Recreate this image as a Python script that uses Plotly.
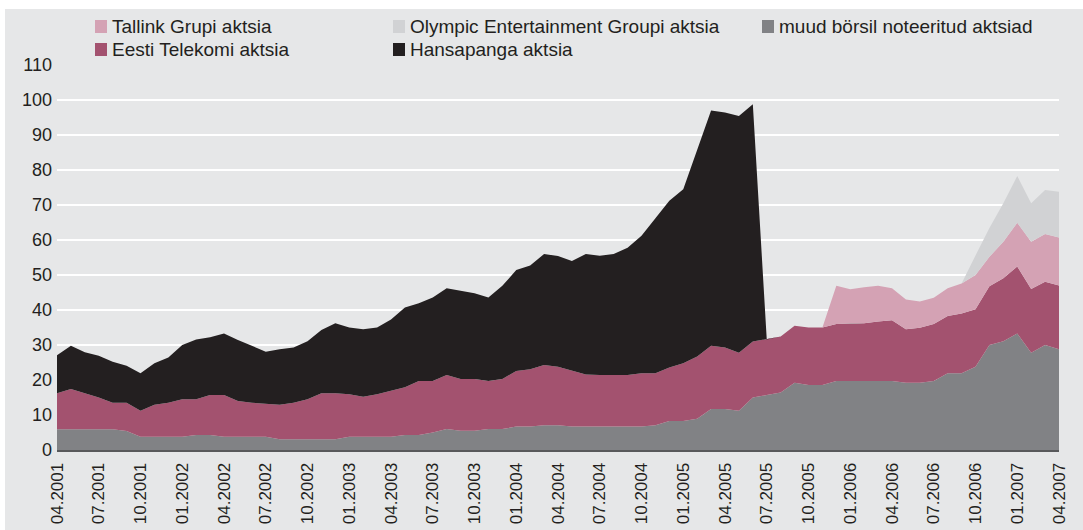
import plotly.graph_objects as go

# Month index 0 = 04.2001 ... 72 = 04.2007
tick_labels = ["04.2001", "07.2001", "10.2001", "01.2002", "04.2002", "07.2002", "10.2002",
               "01.2003", "04.2003", "07.2003", "10.2003", "01.2004", "04.2004", "07.2004",
               "10.2004", "01.2005", "04.2005", "07.2005", "10.2005", "01.2006", "04.2006",
               "07.2006", "10.2006", "01.2007", "04.2007"]

muud = [5.9, 5.9, 5.9, 5.9, 5.9, 5.4, 3.8, 3.8, 3.8, 3.8, 4.3, 4.3, 3.8, 3.8, 3.8, 3.8,
        3.1, 3.1, 3.1, 3.1, 3.1, 3.8, 3.8, 3.8, 3.8, 4.3, 4.3, 5.0, 6.0, 5.5, 5.5, 6.0,
        6.0, 6.7, 6.7, 7.1, 7.1, 6.7, 6.7, 6.7, 6.7, 6.7, 6.7, 7.1, 8.3, 8.3, 8.9, 11.7,
        11.7, 11.2, 15.0, 15.7, 16.4, 19.2, 18.6, 18.6, 19.7, 19.7, 19.7, 19.7, 19.7, 19.2,
        19.2, 19.7, 21.9, 21.9, 23.8, 30.0, 31.1, 33.3, 27.8, 30.0, 28.8]

telekom = [10.3, 11.5, 10.3, 9.1, 7.6, 8.1, 7.4, 9.1, 9.7, 10.7, 10.2, 11.4, 11.9, 10.2,
           9.7, 9.5, 9.8, 10.4, 11.4, 13.1, 13.1, 12.1, 11.4, 12.1, 13.1, 13.6, 15.4, 14.7,
           15.4, 14.8, 14.8, 13.7, 14.3, 15.9, 16.4, 17.2, 16.7, 16.0, 14.9, 14.7, 14.7,
           14.7, 15.2, 14.8, 15.3, 16.5, 17.8, 18.1, 17.6, 16.6, 16.0, 15.9, 16.0, 16.3,
           16.4, 16.4, 16.3, 16.3, 16.5, 17.0, 17.4, 15.3, 15.7, 16.3, 16.4, 17.1, 16.4,
           16.8, 18.0, 19.1, 18.2, 18.1, 18.2]

hansa = [10.9, 12.4, 11.7, 11.9, 11.7, 10.6, 10.7, 11.9, 12.9, 15.5, 17.1, 16.5, 17.6,
         17.4, 16.3, 14.8, 15.9, 15.8, 16.6, 18.1, 20.0, 19.1, 19.3, 19.1, 20.4, 22.8,
         22.2, 23.9, 24.8, 25.1, 24.5, 23.9, 26.6, 28.8, 29.6, 31.7, 31.6, 31.3, 34.4,
         34.1, 34.6, 36.4, 39.3, 44.3, 47.6, 49.7, 58.8, 67.2, 67.1, 67.6, 67.8,
         0, 0, 0, 0, 0, 0, 0, 0, 0, 0, 0, 0, 0, 0, 0, 0, 0, 0, 0, 0, 0, 0]

tallink = [0] * 56 + [10.9, 9.9, 10.3, 10.2, 9.1, 8.5, 7.5, 7.5, 7.9, 8.6, 9.8, 8.4,
                      10.4, 12.5, 13.5, 13.6, 13.7]

olympic = [0] * 66 + [5.6, 8.2, 11.0, 13.4, 11.0, 12.6, 13.1]

x = list(range(len(muud)))

series = [
    ("muud börsil noteeritud aktsiad", muud, "#818285"),
    ("Eesti Telekomi aktsia", telekom, "#a3526f"),
    ("Hansapanga aktsia", hansa, "#231f20"),
    ("Tallink Grupi aktsia", tallink, "#d4a2b4"),
    ("Olympic Entertainment Groupi aktsia", olympic, "#d1d2d4"),
]

fig = go.Figure()
for name, vals, col in series:
    fig.add_trace(go.Scatter(
        x=x, y=vals, name=name, mode="lines", stackgroup="one",
        line=dict(width=0, color=col), fillcolor=col, showlegend=False,
    ))

W, H = 1083, 530
L, R, T, B = 57, 24, 65, 80
PW, PH = W - L - R, H - T - B


def px2x(px):
    return (px - L) / PW


def px2y(py):
    return (H - B - py) / PH


BG = "#e6e7e8"
font_fam = "Liberation Sans, Arial, Helvetica, sans-serif"
txt_col = "#231f20"

shapes = [
    # grey panel on white page (thin white strip at top and left)
    dict(type="rect", xref="paper", yref="paper", x0=px2x(5), x1=px2x(W + 5),
         y0=px2y(H + 5), y1=px2y(9), fillcolor=BG, line=dict(width=0), layer="below"),
]

legend_items = [
    ("Tallink Grupi aktsia", "#d4a2b4", 95, 20),
    ("Eesti Telekomi aktsia", "#a3526f", 95, 43),
    ("Olympic Entertainment Groupi aktsia", "#d1d2d4", 393, 20),
    ("Hansapanga aktsia", "#231f20", 393, 43),
    ("muud börsil noteeritud aktsiad", "#818285", 762, 20),
]
annotations = []
for name, col, lx, ly in legend_items:
    shapes.append(dict(type="rect", xref="paper", yref="paper",
                       x0=px2x(lx), x1=px2x(lx + 12), y0=px2y(ly + 13), y1=px2y(ly),
                       fillcolor=col, line=dict(width=0)))
    annotations.append(dict(text=name, xref="paper", yref="paper",
                            x=px2x(lx + 15), y=px2y(ly + 6.5), xanchor="left", yanchor="middle",
                            showarrow=False, font=dict(family=font_fam, size=19, color=txt_col)))

fig.update_layout(
    width=W, height=H,
    margin=dict(l=L, r=R, t=T, b=B, autoexpand=False),
    paper_bgcolor="white",
    plot_bgcolor=BG,
    shapes=shapes,
    annotations=annotations,
    showlegend=False,
    xaxis=dict(
        range=[0, 72], tickmode="array",
        tickvals=[3 * i for i in range(len(tick_labels))], ticktext=tick_labels,
        tickangle=-90, showgrid=False, zeroline=False, automargin=False,
        showline=True, linecolor="#58595b", linewidth=2,
        tickfont=dict(family=font_fam, size=17, color=txt_col),
        ticks="", ticklabelstandoff=4,
    ),
    yaxis=dict(
        range=[0, 110], tickmode="array", tickvals=list(range(0, 111, 10)),
        showgrid=True, gridcolor="white", gridwidth=2, zeroline=False, automargin=False,
        tickfont=dict(family=font_fam, size=18, color=txt_col),
        ticks="", ticklabelstandoff=4,
    ),
)

fig.write_html("out.html")
